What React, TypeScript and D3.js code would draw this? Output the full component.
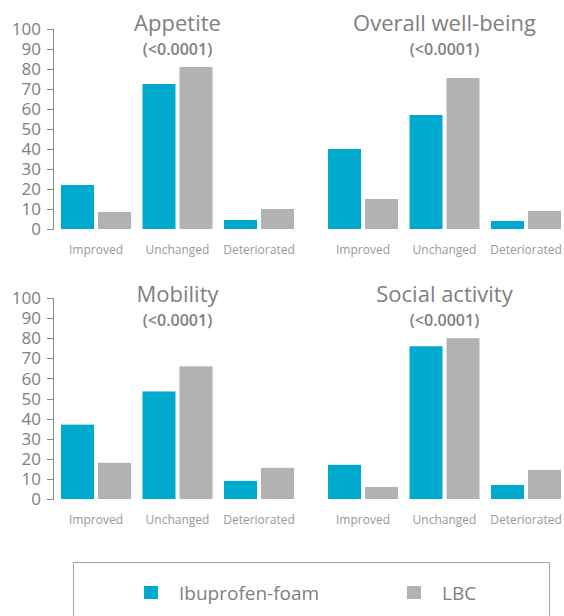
import React from "react";
import * as d3 from "d3";

const categories = ["Improved", "Unchanged", "Deteriorated"];
const seriesNames = ["Ibuprofen-foam", "LBC"];
const panelTitles = ["Appetite", "Overall well-being", "Mobility", "Social activity"];
const pValues = ["(<0.0001)", "(<0.0001)", "(<0.0001)", "(<0.0001)"];
const ibuprofenValues = [
  [22, 72.5, 4.5],
  [40, 57, 4],
  [37, 53.5, 9],
  [17, 76, 7],
];
const lbcValues = [
  [8.5, 81, 10],
  [15, 75.5, 9],
  [18, 66, 15.5],
  [6, 80, 14.5],
];
const yTicks = [0, 10, 20, 30, 40, 50, 60, 70, 80, 90, 100];

const BLUE = "#00A9CE";
const GREY = "#B2B2B2";
const TEXT = "#808080";
const FONT = "'Open Sans', sans-serif";

const colX = [
  [61, 294],
  [328, 561],
];
const rowY = [
  [229, 29],
  [499, 298],
];
const titleBaseline = [31, 301.5];

function Panel({ idx }: { idx: number }) {
  const col = idx % 2;
  const row = Math.floor(idx / 2);
  const x = d3.scaleBand<string>().domain(categories).range(colX[col] as [number, number]).paddingInner(11.5 / 81.5).paddingOuter(0);
  const xi = d3.scaleBand<string>().domain(seriesNames).range([0, x.bandwidth()]).paddingInner(4 / 37).paddingOuter(0);
  const y = d3.scaleLinear().domain([0, 100]).range(rowY[row] as [number, number]);
  const values = [ibuprofenValues[idx], lbcValues[idx]];
  const titleX = (x("Unchanged") as number) + x.bandwidth() / 2;
  const axisX = 53;
  return (
    <g>
      {col === 0 && (
        <g>
          <line x1={axisX + 0.5} x2={axisX + 0.5} y1={y(100)} y2={y(0)} stroke="#8c8c8c" strokeWidth={1} />
          {yTicks.map((t) => (
            <g key={t}>
              <line x1={axisX - 6} x2={axisX + 1} y1={Math.round(y(t)) + 0.5} y2={Math.round(y(t)) + 0.5} stroke="#8c8c8c" strokeWidth={1} />
              <text x={41} y={y(t)} dy="0.36em" textAnchor="end" fontSize={17} fill={TEXT} fontFamily={FONT}>
                {t}
              </text>
            </g>
          ))}
        </g>
      )}
      {categories.map((c, ci) => (
        <g key={c}>
          {seriesNames.map((s, si) => (
            <rect
              key={s}
              x={(x(c) as number) + (xi(s) as number)}
              y={y(values[si][ci])}
              width={xi.bandwidth()}
              height={y(0) - y(values[si][ci])}
              fill={si === 0 ? BLUE : GREY}
            />
          ))}
          <text x={(x(c) as number) + x.bandwidth() / 2} y={y(0) + 25} textAnchor="middle" fontSize={12} fill="#999" fontFamily={FONT}>
            {c}
          </text>
        </g>
      ))}
      <text x={titleX} y={titleBaseline[row]} textAnchor="middle" fontSize={22} fill={TEXT} fontFamily={FONT}>
        {panelTitles[idx]}
      </text>
      <text x={titleX} y={titleBaseline[row] + 24} textAnchor="middle" fontSize={16} fontWeight={600} fill={TEXT} fontFamily={FONT}>
        {pValues[idx]}
      </text>
    </g>
  );
}

export default function App() {
  const legendX = [144, 407];
  return (
    <svg width={564} height={616} style={{ position: "absolute", left: 0, top: 0 }}>
      <rect width={564} height={616} fill="#fff" />
      {[0, 1, 2, 3].map((i) => (
        <Panel key={i} idx={i} />
      ))}
      <rect x={73.5} y={562.5} width={476} height={80} fill="none" stroke="#a8a8a8" strokeWidth={1} />
      {seriesNames.map((s, i) => (
        <g key={s}>
          <rect x={legendX[i]} y={586} width={14} height={13} fill={i === 0 ? BLUE : GREY} />
          <text x={legendX[i] + 35} y={600} fontSize={19} fill={TEXT} fontFamily={FONT}>
            {s}
          </text>
        </g>
      ))}
    </svg>
  );
}
